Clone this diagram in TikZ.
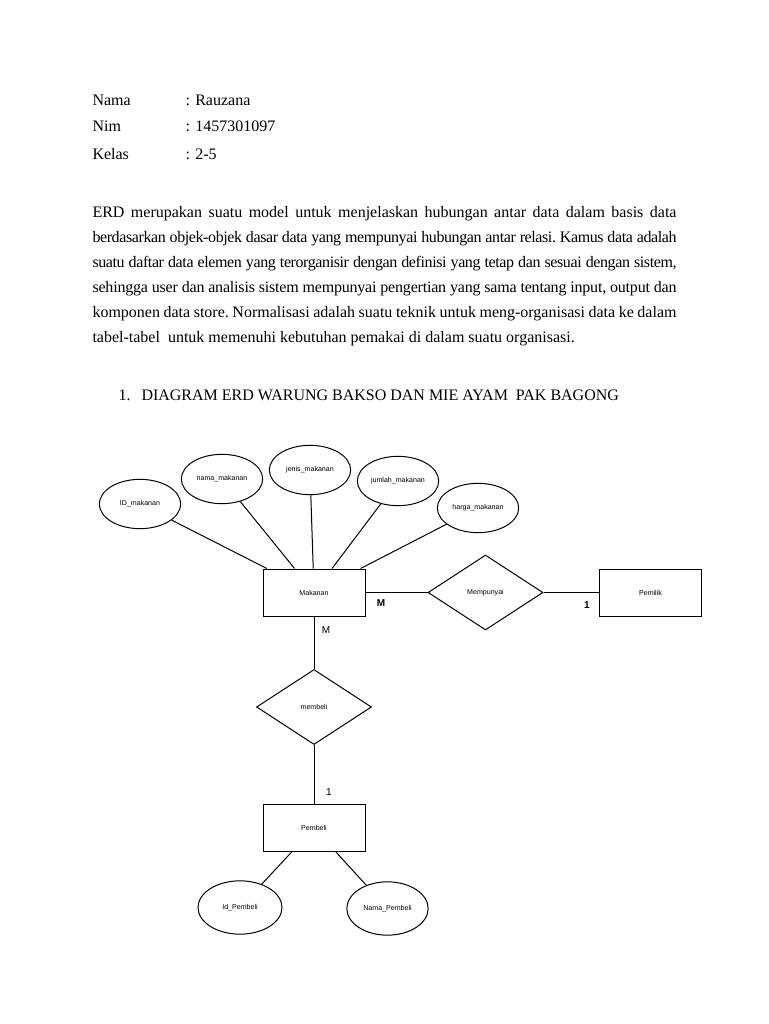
\documentclass[tikz,border=0pt]{standalone}
\usepackage{fontspec}
\setmainfont{Liberation Serif}
\newfontfamily\erdfont{Liberation Sans}
\newfontfamily\rapat[LetterSpace=-2.5]{Liberation Serif}
\newfontfamily\agakrapat[LetterSpace=-1.2]{Liberation Serif}
\usetikzlibrary{shapes.geometric}
\newcommand{\barisrata}[1]{\leavevmode\hbox to 438pt{#1}}

\begin{document}
\begin{tikzpicture}[x=0.75pt, y=-0.75pt, line width=0.75pt,
  txt/.style={anchor=base west, inner sep=0pt, font=\fontsize{12}{18.75}\selectfont},
  entity/.style={draw, rectangle, minimum width=76.5pt, minimum height=35.25pt, inner sep=0pt, font=\erdfont\fontsize{5.3}{6}\selectfont},
  attr/.style={draw, ellipse, minimum width=61pt, minimum height=37pt, inner sep=0pt, font=\erdfont\fontsize{5.3}{6}\selectfont},
  rel/.style={draw, diamond, minimum width=86.25pt, minimum height=56.25pt, inner sep=0pt, font=\erdfont\fontsize{5.3}{6}\selectfont},
  card/.style={inner sep=0pt, font=\erdfont\fontsize{7.5}{8}\selectfont}]
  \fill[white] (0,0) rectangle (768,1024);
  \useasboundingbox (0,0) rectangle (768,1024);

  % Identitas
  \node[txt] (nama) at (92,105) {Nama};
  \node[txt] (namaisi) at (185,105) {: Rauzana};
  \node[txt] (nim) at (92,132) {Nim};
  \node[txt] (nimisi) at (185,132) {: 1457301097};
  \node[txt] (kelas) at (92,159) {Kelas};
  \node[txt] (kelasisi) at (185,159) {: 2-5};

  % Paragraf
  \node[txt, text width=438pt, align=left] (paragraf) at (92,217) {\frenchspacing
    \spaceskip=.25em plus .5em minus .15em
    \barisrata{ERD merupakan suatu model untuk menjelaskan hubungan antar data dalam basis data}\\
    \barisrata{\rapat\spaceskip=.25em plus .5em minus .15em berdasarkan objek-objek dasar data yang mempunyai hubungan antar relasi. Kamus data adalah}\\
    \barisrata{\rapat\spaceskip=.25em plus .5em minus .15em suatu daftar data elemen yang terorganisir dengan definisi yang tetap dan sesuai dengan sistem,}\\
    \barisrata{\agakrapat\spaceskip=.25em plus .5em minus .15em sehingga user dan analisis sistem mempunyai pengertian yang sama tentang input, output dan}\\
    \barisrata{komponen data store. Normalisasi adalah suatu teknik untuk meng-organisasi data ke dalam}\\
    tabel-tabel\ \ untuk memenuhi kebutuhan pemakai di dalam suatu organisasi.};

  % Judul
  \node[txt] (nomor) at (118,400) {1.};
  \node[txt] (judul) at (141,400) {DIAGRAM ERD WARUNG BAKSO DAN MIE AYAM\ \ PAK BAGONG};

  % Atribut makanan
  \node[attr] (idmakanan) at (140,504) {ID\_makanan};
  \node[attr] (namamakanan) at (222,479) {nama\_makanan};
  \node[attr] (jenismakanan) at (310,470) {jenis\_makanan};
  \node[attr] (jumlahmakanan) at (398,481) {jumlah\_makanan};
  \node[attr] (hargamakanan) at (478,508) {harga\_makanan};

  % Entitas dan relasi
  \node[entity] (makanan) at (314,592.5) {Makanan};
  \node[rel] (mempunyai) at (485.5,592.5) {Mempunyai};
  \node[entity] (pemilik) at (650.5,592.5) {Pemilik};
  \node[rel] (membeli) at (314,707) {membeli};
  \node[entity] (pembeli) at (314,828) {Pembeli};

  % Atribut pembeli
  \node[attr, minimum width=63pt, minimum height=40pt] (idpembeli) at (240,907.5) {Id\_Pembeli};
  \node[attr, minimum width=61pt, minimum height=40pt] (namapembeli) at (387.5,908.5) {Nama\_Pembeli};

  \draw (idmakanan) -- (makanan);
  \draw (namamakanan) -- (makanan);
  \draw (jenismakanan) -- (makanan);
  \draw (jumlahmakanan) -- (makanan);
  \draw (hargamakanan) -- (makanan);
  \draw (makanan) -- (mempunyai);
  \draw (mempunyai) -- (pemilik);
  \draw (makanan) -- (membeli);
  \draw (membeli) -- (pembeli);
  \draw (pembeli) -- (idpembeli);
  \draw (pembeli) -- (namapembeli);

  % Kardinalitas
  \node[card, font=\erdfont\bfseries\fontsize{7.5}{8}\selectfont] (m1) at (381,603) {M};
  \node[card, font=\erdfont\bfseries\fontsize{7.5}{8}\selectfont] (s1) at (587,605) {1};
  \node[card] (m2) at (326,630) {M};
  \node[card] (s2) at (329,792) {1};
\end{tikzpicture}
\end{document}
